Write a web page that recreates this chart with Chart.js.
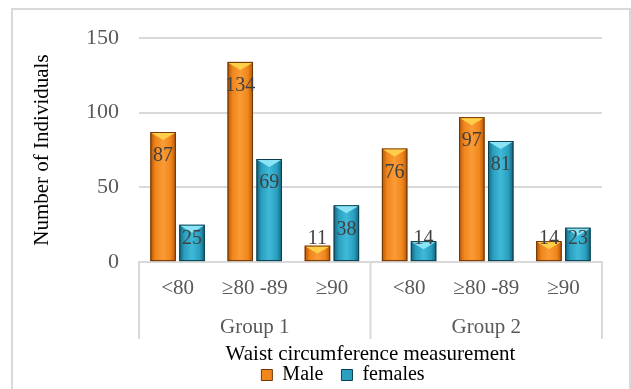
<!DOCTYPE html>
<html>
<head>
<meta charset="utf-8">
<script src="https://cdn.jsdelivr.net/npm/chart.js@4/dist/chart.umd.min.js"></script>
<style>
  body { margin: 0; background: #fff; }
  #wrap { position: relative; width: 631px; height: 389px; overflow: hidden; }
  #frame { position: absolute; left: 11px; top: 8px; width: 620px; height: 400px;
           box-sizing: border-box; border: 2px solid #d9d9d9; pointer-events: none; }
</style>
</head>
<body>
<div id="wrap">
  <canvas id="chart" width="631" height="389"></canvas>
  <div id="frame"></div>
</div>
<script>
const categories = ["<80", "≥80 -89", "≥90", "<80", "≥80 -89", "≥90"];
const groups = ["Group 1", "Group 2"];
const male = [87, 134, 11, 76, 97, 14];
const females = [25, 69, 38, 14, 81, 23];
const yTicks = [0, 50, 100, 150];

const serif = "'Liberation Serif', 'Times New Roman', serif";

// colours for the bevelled bars: edge, middle, highlight, top cap
const shades = [
    { edge: "#b35508", mid: "#f0861c", light: "#fb9b35", cap: "#ffcf4a", line: "#6e3606" },
    { edge: "#14637a", mid: "#2a9fbf", light: "#40b9d8", cap: "#8ae4f6", line: "#0c3f4e" }
];

// paints the bars with a horizontal gradient, a top bevel and the value label
const bevelBars = {
    id: "bevelBars",
    afterDatasetsDraw(chart) {
        const ctx = chart.ctx;
        chart.data.datasets.forEach((ds, di) => {
            const meta = chart.getDatasetMeta(di);
            const s = shades[di];
            meta.data.forEach((bar, i) => {
                const left = bar.x - bar.width / 2;
                const right = bar.x + bar.width / 2;
                const top = bar.y;
                const base = bar.base;

                const grad = ctx.createLinearGradient(left, 0, right, 0);
                grad.addColorStop(0, s.edge);
                grad.addColorStop(0.2, s.mid);
                grad.addColorStop(0.5, s.light);
                grad.addColorStop(0.8, s.mid);
                grad.addColorStop(1, s.edge);

                ctx.save();
                ctx.fillStyle = grad;
                ctx.fillRect(left, top, right - left, base - top);
                ctx.strokeStyle = s.line;
                ctx.lineWidth = 1;
                ctx.strokeRect(left + 0.5, top + 0.5, right - left - 1, base - top - 1);

                const capH = Math.min(8, (base - top) / 2);
                ctx.beginPath();
                ctx.moveTo(left + 1, top + 1);
                ctx.lineTo(right - 1, top + 1);
                ctx.lineTo(bar.x, top + capH);
                ctx.closePath();
                ctx.fillStyle = s.cap;
                ctx.fill();

                ctx.fillStyle = "#404040";
                ctx.font = "20px " + serif;
                ctx.textAlign = "center";
                ctx.textBaseline = "middle";
                const ly = Math.min(top + 24, base - 22);
                ctx.fillText(ds.data[i], bar.x, ly);
                ctx.restore();
            });
        });
    }
};

// the lines that box the two groups under the axis
const groupDividers = {
    id: "groupDividers",
    afterDraw(chart) {
        const x = chart.scales.x;
        const ctx = chart.ctx;
        const per = categories.length / groups.length;
        const half = (x.getPixelForValue(1) - x.getPixelForValue(0)) / 2;
        const end = chart.chartArea.bottom + 77;
        ctx.save();
        ctx.strokeStyle = "#d9d9d9";
        ctx.lineWidth = 2;
        for (let k = 0; k <= groups.length; k++) {
            const px = k < groups.length
                ? x.getPixelForValue(k * per) - half
                : x.getPixelForValue(categories.length - 1) + half;
            ctx.beginPath();
            ctx.moveTo(px, chart.chartArea.bottom);
            ctx.lineTo(px, end);
            ctx.stroke();
        }
        ctx.restore();
    }
};

// nudge the legend a little to the right, as in the original
const legendShift = {
    id: "legendShift",
    beforeDraw(chart) {
        chart.legend.left += 36;
        chart.legend.right += 36;
    }
};

new Chart(document.getElementById("chart"), {
    type: "bar",
    data: {
        labels: categories,
        datasets: [
            {
                label: "Male",
                data: male,
                backgroundColor: shades[0].mid,
                borderColor: shades[0].line,
                borderWidth: 1
            },
            {
                label: "females",
                data: females,
                backgroundColor: shades[1].mid,
                borderColor: shades[1].line,
                borderWidth: 1
            }
        ]
    },
    options: {
        responsive: false,
        animation: false,
        layout: { padding: { left: 12, right: 29, top: 38, bottom: -6 } },
        categoryPercentage: 0.75,
        barPercentage: 0.88,
        plugins: {
            tooltip: { enabled: false },
            legend: {
                position: "bottom",
                labels: {
                    boxWidth: 11,
                    boxHeight: 11,
                    padding: 18,
                    color: "#000",
                    font: { family: serif, size: 20 }
                }
            }
        },
        scales: {
            x: {
                weight: 0,
                grid: { display: false, drawTicks: false },
                border: { display: true, color: "#d9d9d9", width: 2 },
                ticks: { color: "#595959", padding: 14, font: { family: serif, size: 21 }, maxRotation: 0, autoSkip: false }
            },
            x2: {
                type: "category",
                labels: groups,
                offset: true,
                weight: 1,
                position: "bottom",
                grid: { display: false, drawTicks: false },
                border: { display: false },
                ticks: { color: "#595959", padding: 0, font: { family: serif, size: 21 } },
                title: {
                    display: true,
                    text: "Waist circumference measurement",
                    color: "#000",
                    font: { family: serif, size: 21, lineHeight: 1 },
                    padding: { top: 3, bottom: -17.5 }
                }
            },
            y: {
                min: 0,
                max: 150,
                afterBuildTicks: s => { s.ticks = yTicks.map(v => ({ value: v })); },
                grid: { color: "#d9d9d9", lineWidth: 2, drawTicks: false },
                border: { display: false },
                ticks: { color: "#595959", padding: 20, font: { family: serif, size: 22 } },
                title: {
                    display: true,
                    text: "Number of Individuals",
                    color: "#000",
                    font: { family: serif, size: 21, lineHeight: 1 },
                    padding: { top: 20, bottom: 13 }
                }
            }
        }
    },
    plugins: [bevelBars, groupDividers, legendShift]
});
</script>
</body>
</html>
